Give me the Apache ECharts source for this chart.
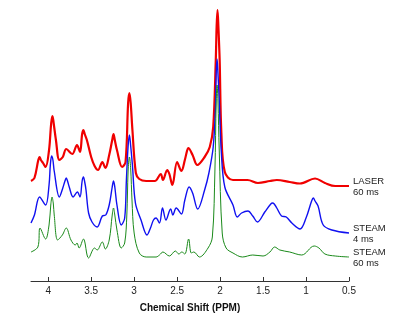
<!DOCTYPE html>
<html>
<head>
<meta charset="utf-8">
<script src="https://cdn.jsdelivr.net/npm/echarts@6/dist/echarts.min.js"></script>
<style>
html, body { margin: 0; padding: 0; background: #fff; }
#main { width: 400px; height: 324px; }
</style>
</head>
<body>
<div id="main"></div>
<script>
// chemical shift ticks
const tickValues = [0.5, 1, 1.5, 2, 2.5, 3, 3.5, 4];

// LASER 60 ms (offset trace, arbitrary units)
const laserPpm = [4.2, 4.16, 4.115, 4.1, 4.085, 4.06, 4.03, 3.99, 3.965, 3.95, 3.935, 3.91, 3.87, 3.83, 3.79, 3.72, 3.665, 3.63, 3.605, 3.59, 3.575, 3.55, 3.5, 3.46, 3.42, 3.37, 3.335, 3.29, 3.255, 3.24, 3.225, 3.2, 3.14, 3.1, 3.07, 3.055, 3.04, 3.02, 2.98, 2.94, 2.86, 2.76, 2.69, 2.665, 2.615, 2.59, 2.555, 2.5, 2.45, 2.41, 2.385, 2.37, 2.32, 2.265, 2.18, 2.12, 2.08, 2.05, 2.04, 2.03, 2.02, 2.005, 1.985, 1.945, 1.85, 1.68, 1.56, 1.42, 1.34, 1.19, 1.07, 0.895, 0.78, 0.66, 0.5];
const laserVal = [100, 103, 121, 124, 121, 118, 114, 131, 158, 165, 157, 141, 121, 124, 132, 127, 136, 129, 147, 151, 147, 141, 124, 115, 111, 119, 113, 126, 141, 147, 141, 131, 114, 119, 178, 188, 178, 151, 108, 102, 100, 100, 107, 101, 111, 107, 96, 119, 110, 121, 130, 133, 126, 116, 124, 134, 154, 221, 255, 271, 255, 221, 148, 109, 101, 101, 98, 100, 101, 99, 97.5, 102.5, 98, 95, 95];

// STEAM 4 ms
const steam4Ppm = [4.2, 4.16, 4.1, 4.03, 3.99, 3.975, 3.96, 3.945, 3.93, 3.87, 3.83, 3.805, 3.79, 3.775, 3.755, 3.71, 3.66, 3.63, 3.605, 3.59, 3.575, 3.56, 3.53, 3.49, 3.43, 3.37, 3.33, 3.29, 3.255, 3.24, 3.225, 3.2, 3.15, 3.11, 3.09, 3.07, 3.055, 3.04, 3.02, 2.985, 2.92, 2.85, 2.81, 2.775, 2.745, 2.705, 2.67, 2.63, 2.575, 2.55, 2.51, 2.45, 2.41, 2.36, 2.32, 2.26, 2.18, 2.13, 2.08, 2.055, 2.045, 2.035, 2.025, 2.01, 1.985, 1.945, 1.85, 1.8, 1.75, 1.675, 1.62, 1.565, 1.48, 1.41, 1.39, 1.37, 1.34, 1.285, 1.23, 1.165, 1.07, 1.0, 0.935, 0.915, 0.895, 0.86, 0.8, 0.7, 0.5];
const steam4Val = [58, 66, 84, 76, 96, 116, 125, 121, 110, 84, 93, 100, 103, 100, 94, 84, 89, 84, 100, 104, 99, 91, 68, 59, 54, 65, 66, 76, 94, 100, 94, 76, 56, 63, 101, 135, 146, 135, 116, 78, 61, 46, 53, 61, 63, 58, 73, 61, 72, 66, 73, 67, 81, 94, 88, 72, 91, 108, 134, 171, 208, 222, 208, 181, 128, 94, 76, 64, 68, 70, 65, 59, 69, 77, 78, 77, 73, 65, 64, 58, 52, 63, 80, 83, 80, 75, 56, 51, 48];

// STEAM 60 ms
const steam60Ppm = [4.2, 4.12, 4.095, 4.03, 3.99, 3.97, 3.955, 3.94, 3.93, 3.89, 3.835, 3.79, 3.735, 3.685, 3.665, 3.64, 3.59, 3.53, 3.46, 3.43, 3.37, 3.335, 3.29, 3.255, 3.24, 3.225, 3.2, 3.15, 3.11, 3.085, 3.07, 3.055, 3.04, 3.025, 3.0, 2.94, 2.86, 2.745, 2.705, 2.665, 2.59, 2.52, 2.48, 2.445, 2.41, 2.366, 2.335, 2.305, 2.24, 2.14, 2.09, 2.06, 2.045, 2.035, 2.025, 2.01, 1.975, 1.93, 1.85, 1.74, 1.62, 1.5, 1.42, 1.365, 1.305, 1.19, 1.05, 0.905, 0.85, 0.78, 0.66, 0.5];
const steam60Val = [29, 34, 53, 42, 56, 76, 84, 77, 66, 41, 46, 53, 41, 36, 38, 33, 42, 23, 33, 31, 39, 32, 41, 66, 73, 66, 51, 33, 38, 66, 110, 124, 112, 81, 48, 28, 24, 24, 26, 29, 25, 30, 27, 29, 27, 42, 28, 29, 24, 33, 44, 111, 180, 196, 180, 131, 48, 33, 28, 24, 26, 25, 29, 34, 31, 29, 26, 35, 33, 27, 25, 24];

const traceNames = ['LASER\n60 ms', 'STEAM\n4 ms', 'STEAM\n60 ms'];
const traceColors = ['#f00000', '#1010f0', '#1a8a1a'];
const traceWidths = [2.2, 1.4, 1];

function pairs(xs, ys) {
  return xs.map((x, i) => [x, ys[i]]);
}

const traces = [
  pairs(laserPpm, laserVal),
  pairs(steam4Ppm, steam4Val),
  pairs(steam60Ppm, steam60Val)
];

const chart = echarts.init(document.getElementById('main'));

const option = {
  animation: false,
  backgroundColor: '#fff',
  grid: { left: 31, right: 51, top: 10, bottom: 43 },
  xAxis: {
    type: 'value',
    inverse: true,
    min: 0.5,
    max: 4.2,
    interval: 0.5,
    name: 'Chemical Shift (PPM)',
    nameLocation: 'middle',
    nameGap: 22,
    nameTextStyle: { fontFamily: 'Liberation Sans', fontSize: 10, fontWeight: 'bold', color: '#111' },
    splitLine: { show: false },
    axisLine: { onZero: false, lineStyle: { color: '#333', width: 1 } },
    axisTick: { inside: true, length: 4, customValues: tickValues, lineStyle: { color: '#333' } },
    axisLabel: {
      customValues: tickValues,
      margin: 5,
      fontFamily: 'Liberation Sans',
      fontSize: 10,
      color: '#222'
    }
  },
  yAxis: { type: 'value', min: 0, max: 271, show: false },
  series: traces.map((d, i) => ({
    type: 'line',
    data: d,
    smooth: 0.35,
    symbol: 'none',
    lineStyle: { color: traceColors[i], width: traceWidths[i] },
    itemStyle: { color: traceColors[i] }
  }))
};

chart.setOption(option);

// trace names to the right of each trace end
const labels = traces.map((d, i) => {
  const end = chart.convertToPixel({ seriesIndex: i }, d[d.length - 1]);
  return {
    type: 'text',
    x: end[0] + 4,
    y: end[1] + 1,
    style: {
      text: traceNames[i],
      fontFamily: 'Liberation Sans',
      fontSize: 9.5,
      lineHeight: 11,
      fill: '#222',
      verticalAlign: 'middle'
    }
  };
});
chart.setOption({ graphic: labels });
</script>
</body>
</html>
